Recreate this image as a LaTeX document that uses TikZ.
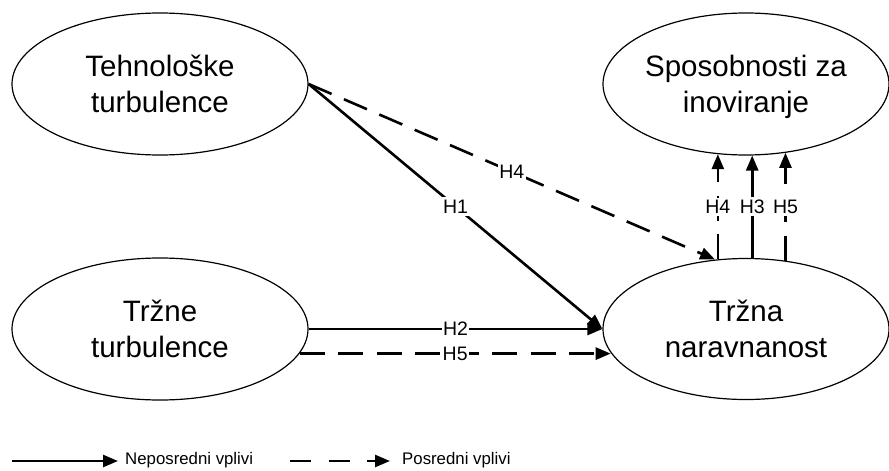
\documentclass[tikz,border=0pt]{standalone}
\usepackage{fontspec}
\setmainfont{Liberation Sans}
\usetikzlibrary{arrows.meta,shapes.geometric}

% two centred lines with a fixed height so every construct sits alike
\newcommand{\ctext}[2]{\rule{0pt}{21pt}\smash{#1}\\\smash{#2}}

\begin{document}
\begin{tikzpicture}[x=1pt,y=-1pt,
  construct/.style={ellipse, draw, line width=1.2pt, align=center,
    inner sep=0pt, font=\fontsize{29.5}{35.5}\selectfont},
  effect/.style={line width=2.6pt, -{Triangle[length=15pt,width=12pt]}},
  indirect/.style={effect, dash pattern=on 25pt off 13.5pt},
  hyp/.style={fill=white, inner xsep=1.5pt, inner ysep=2.5pt,
    font=\fontsize{19.5}{22}\selectfont},
  legendtext/.style={font=\fontsize{16.8}{20}\selectfont, anchor=base west,
    inner ysep=0pt}
]
\useasboundingbox (0,0) rectangle (889,471);

% constructs
\node[construct, minimum width=296pt, minimum height=142pt] (tech) at (160,84)
  {\ctext{Tehnološke}{turbulence}};
\node[construct, minimum width=286pt, minimum height=142pt] (inov) at (746,84)
  {\ctext{Sposobnosti za}{inoviranje}};
\node[construct, minimum width=296pt, minimum height=142pt] (trzt) at (160,329)
  {\ctext{Tržne}{turbulence}};
\node[construct, minimum width=286pt, minimum height=141pt] (trzn) at (746,329)
  {\ctext{Tržna}{naravnanost}};

% hypothesised paths
\draw[effect] (tech.east) -- node[hyp] (h1) {H1} (trzn.west);
\draw[indirect] (tech.east) -- node[hyp] (h4a) {H4} (trzn.114);
\draw[effect] (trzt.east) -- node[hyp] (h2) {H2} (trzn.west);
\draw[indirect] (trzt.-10) -- node[hyp] (h5a) {H5} (trzt.-10 -| trzn.190);

% paths into innovation capability
\draw[indirect] (trzn.112) -- node[hyp] (h4b) {H4} (trzn.112 |- inov.248);
\draw[effect] (trzn.85) -- node[hyp] (h3) {H3} (trzn.85 |- inov.275);
\draw[indirect] (trzn.60) -- node[hyp] (h5b) {H5} (trzn.60 |- inov.300);

% legend
\coordinate (ls) at (12,461);
\node[legendtext, inner xsep=7pt] (lt) at (118,464) {Neposredni vplivi};
\draw[effect] (ls) -- (ls -| lt.west);
\coordinate (ds) at (290,461);
\node[legendtext, inner xsep=12pt] (pt) at (390,464) {Posredni vplivi};
\draw[effect, dash pattern=on 21pt off 17.5pt] (ds) -- (ds -| pt.west);
\end{tikzpicture}
\end{document}
